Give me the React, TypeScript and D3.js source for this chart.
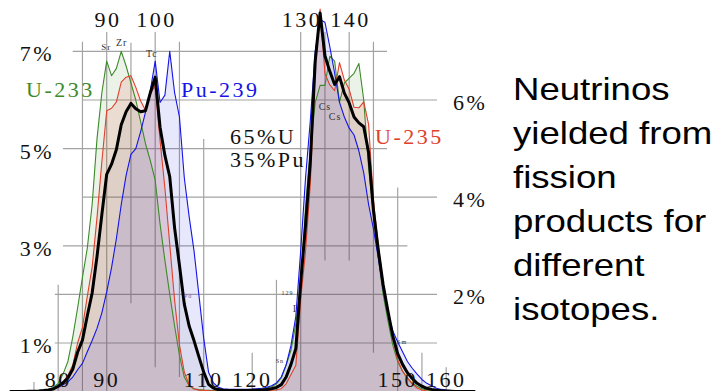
import React from 'react';
import * as d3 from 'd3';

// Mass number (A) of the fission products
const MASS = [70,71,72,73,74,75,76,77,78,79,80,81,82,83,84,85,86,87,88,89,90,91,92,93,94,95,96,97,98,99,100,101,102,103,104,105,106,107,108,109,110,111,112,113,114,115,116,117,118,119,120,121,122,123,124,125,126,127,128,129,130,131,132,133,134,135,136,137,138,139,140,141,142,143,144,145,146,147,148,149,150,151,152,153,154,155,156,157,158,159,160,161,162,163,164,165,166];

// Yields in percent
const U233 = [0.0005,0.001,0.002,0.004,0.008,0.015,0.02,0.03,0.05,0.09,0.17,0.36,0.62,1.12,1.72,2.35,2.95,3.85,5.2,6.15,6.8,6.5,6.65,7.0,6.7,6.35,6.0,5.55,5.1,4.75,4.35,3.45,2.7,2.0,1.35,0.75,0.3,0.12,0.06,0.04,0.03,0.025,0.02,0.02,0.02,0.02,0.02,0.02,0.02,0.02,0.03,0.04,0.05,0.07,0.1,0.16,0.28,0.55,0.85,1.4,2.2,3.8,5.0,5.95,6.3,6.3,6.9,6.8,5.95,6.35,6.45,6.55,6.75,6.0,4.6,3.65,2.75,2.0,1.45,0.95,0.62,0.42,0.28,0.17,0.11,0.06,0.035,0.02,0.01,0.005,0.002,0.001,0.0005,0.0003,0.0002,0.0001,0.0001];

const U235 = [0.0002,0.0005,0.001,0.002,0.004,0.008,0.01,0.02,0.03,0.05,0.12,0.2,0.33,0.54,1.0,1.32,1.96,2.56,3.58,4.73,5.78,5.83,5.96,6.37,6.47,6.5,6.26,5.98,5.79,6.13,6.29,5.17,4.19,3.03,1.88,0.96,0.4,0.14,0.054,0.031,0.025,0.018,0.013,0.014,0.012,0.01,0.01,0.011,0.011,0.012,0.013,0.013,0.016,0.016,0.028,0.034,0.06,0.16,0.35,0.54,1.9,2.89,4.3,6.7,7.87,6.54,6.31,6.19,6.77,6.41,6.22,5.85,5.84,5.96,5.5,3.93,3.0,2.25,1.67,1.08,0.65,0.42,0.27,0.16,0.074,0.033,0.013,0.0063,0.0032,0.001,0.0003,0.0001,0.0001,0.0001,0.0001,0.0001,0.0001];

const PU239 = [0.001,0.002,0.003,0.005,0.008,0.012,0.018,0.025,0.04,0.06,0.09,0.14,0.2,0.3,0.45,0.58,0.82,1.05,1.3,1.62,2.05,2.55,3.15,3.85,4.45,4.88,5.0,5.35,5.75,6.2,6.8,5.95,6.1,7.0,6.15,5.65,4.4,3.6,2.9,2.0,1.1,0.4,0.18,0.09,0.06,0.05,0.045,0.045,0.045,0.045,0.05,0.06,0.07,0.09,0.12,0.18,0.3,0.55,0.95,1.55,2.9,4.4,5.6,7.0,7.65,7.6,7.1,6.55,5.95,5.65,5.42,5.28,4.95,4.5,3.85,3.35,2.75,2.1,1.6,1.25,1.02,0.82,0.62,0.48,0.36,0.25,0.17,0.12,0.07,0.045,0.03,0.02,0.012,0.008,0.005,0.003,0.002];

// 65% U / 35% Pu mixture
const MIX = [0.0005,0.001,0.0017,0.003,0.0054,0.0094,0.013,0.022,0.034,0.054,0.11,0.18,0.28,0.46,0.81,1.06,1.56,2.03,2.78,3.64,4.47,4.68,4.98,5.49,5.76,5.93,5.82,5.76,5.78,6.15,6.47,5.44,4.86,4.42,3.37,2.6,1.8,1.35,1.05,0.72,0.4,0.15,0.071,0.041,0.029,0.024,0.022,0.023,0.023,0.024,0.026,0.029,0.035,0.042,0.06,0.085,0.144,0.3,0.56,0.89,2.25,3.42,4.76,6.81,7.79,6.91,6.59,6.32,6.48,6.14,5.94,5.65,5.53,5.45,4.92,3.73,2.91,2.2,1.65,1.14,0.78,0.56,0.39,0.27,0.17,0.11,0.068,0.046,0.027,0.016,0.011,0.007,0.0042,0.0028,0.0018,0.0011,0.0007];

const LEFT_TICKS = [1, 3, 5, 7];
const RIGHT_TICKS = [2, 4, 6];
const TOP_TICKS = [90, 100, 130, 140];
const BOTTOM_TICKS = [80, 90, 110, 120, 150, 160];
const TITLE_LINES = ['Neutrinos', 'yielded from', 'fission', 'products for', 'different', 'isotopes.'];

// grid segments in data units
const V_GRID: [number, number, number][] = [
  [75, 0.2, 0], [80, 2.2, 0], [85, 7.2, 0], [90, 7.4, 0], [95, 7.18, 1.82], [100, 7.4, 0.5],
  [105, 7.2, 0.3], [110, 5.2, 0], [120, 0.8, 0], [125, 2.3, 0], [130, 7.4, 0], [135, 7.4, 2.7],
  [140, 7.4, 2.7], [145, 7.2, 0.8], [150, 4.2, 0], [155, 0.8, 0], [160, 0.5, 0],
];
const H_GRID: [number, number, number][] = [
  [7, 83, 147.8], [6, 85, 158.1], [5, 81, 147.8], [4, 85, 158.1], [3, 81, 152], [2, 79.3, 158.1], [1, 79.3, 158.1],
];

const ELEMENTS: { t: string; a: number; p: number; s: number }[] = [
  { t: 'Sr', a: 89.9, p: 7.03, s: 9 },
  { t: 'Zr', a: 93.1, p: 7.11, s: 10 },
  { t: 'Tc', a: 99.3, p: 6.88, s: 10 },
  { t: 'Cs', a: 135.0, p: 5.8, s: 10 },
  { t: 'Cs', a: 137.1, p: 5.59, s: 10 },
  { t: '129', a: 127.3, p: 1.99, s: 6 },
  { t: 'I', a: 128.8, p: 1.64, s: 10 },
  { t: 'Sn', a: 125.7, p: 0.59, s: 6 },
  { t: 'Sm', a: 150.9, p: 0.98, s: 6 },
  { t: 'Pd', a: 106.8, p: 1.93, s: 6 },
];

const SERIES = [
  { key: 'U-233', values: U233, stroke: '#3d8a2a', fill: 'rgba(60,140,40,0.10)', width: 1.1 },
  { key: 'U-235', values: U235, stroke: '#e0402c', fill: 'rgba(230,60,40,0.12)', width: 1.1 },
  { key: 'mix', values: MIX, stroke: '#000000', fill: 'rgba(0,0,0,0.05)', width: 3 },
  { key: 'Pu-239', values: PU239, stroke: '#1414e6', fill: 'rgba(26,26,238,0.10)', width: 1.1 },
];

export default function App() {
  const W = 720, H = 391;
  const x = d3.scaleLinear().domain([90, 150]).range([106.7, 397.7]);
  const y = d3.scaleLinear().domain([0, 7]).range([391.6, 51.4]);

  const line = (vals: number[]) =>
    d3.line<number>().x((_, i) => x(MASS[i])).y((d) => y(d))(vals) || '';
  const area = (vals: number[]) =>
    d3.area<number>().x((_, i) => x(MASS[i])).y0(y(0)).y1((d) => y(d))(vals) || '';

  const serif = "'Liberation Serif', 'Times New Roman', serif";
  const gridColor = '#a3a3a3';
  const strokeOrder = ['U-233', 'Pu-239', 'U-235', 'mix'];

  return (
    <svg width={W} height={H} style={{ position: 'absolute', left: 0, top: 0, background: '#fff' }}>
      <g stroke={gridColor} strokeWidth={1.2}>
        {V_GRID.map(([a, p1, p0], i) => (
          <line key={'v' + i} x1={x(a)} x2={x(a)} y1={y(p1)} y2={y(p0)} />
        ))}
        {H_GRID.map(([p, a0, a1], i) => (
          <line key={'h' + i} x1={x(a0)} x2={x(a1)} y1={y(p)} y2={y(p)} />
        ))}
      </g>
      <g>
        {SERIES.map((s) => (
          <path key={'a' + s.key} d={area(s.values)} fill={s.fill} stroke="none" />
        ))}
      </g>
      <g fill="none" strokeLinejoin="round">
        {strokeOrder.map((k) => {
          const s = SERIES.find((q) => q.key === k)!;
          return <path key={'l' + k} d={line(s.values)} stroke={s.stroke} strokeWidth={s.width} />;
        })}
      </g>
      <g fontFamily={serif} fontSize={22} letterSpacing={2.5} fill="#111">
        {LEFT_TICKS.map((t) => (
          <text key={'lt' + t} x={54} y={y(t) + 10} textAnchor="end">{t + '%'}</text>
        ))}
        {RIGHT_TICKS.map((t) => (
          <text key={'rt' + t} x={453} y={y(t) + 10}>{t + '%'}</text>
        ))}
        {TOP_TICKS.map((t) => (
          <text key={'tt' + t} x={x(t) + 1.25} y={27} textAnchor="middle">{t}</text>
        ))}
        {BOTTOM_TICKS.map((t) => (
          <text key={'bt' + t} x={x(t)} y={387} textAnchor="middle">{t}</text>
        ))}
        <text x={26} y={97} fill="#3d8a2a">U-233</text>
        <text x={181} y={97} fill="#1414e6">Pu-239</text>
        <text x={375} y={144} fill="#e0402c">U-235</text>
        <text x={230} y={144}>65%U</text>
        <text x={230} y={167}>35%Pu</text>
      </g>
      <g fontFamily={serif} fill="#333" letterSpacing={1}>
        {ELEMENTS.map((e, i) => (
          <text key={'e' + i} x={x(e.a)} y={y(e.p)} fontSize={e.s} textAnchor="middle"
            fill={e.t === 'Pd' ? '#6a6aa0' : '#333'}>{e.t}</text>
        ))}
      </g>
      <g fontFamily="'Liberation Sans', Arial, sans-serif" fontSize={30.5} fill="#000">
        {TITLE_LINES.map((t, i) => (
          <text key={'ti' + i} transform={`translate(513, ${100 + i * 44}) scale(1.2, 1)`}>{t}</text>
        ))}
      </g>
    </svg>
  );
}
